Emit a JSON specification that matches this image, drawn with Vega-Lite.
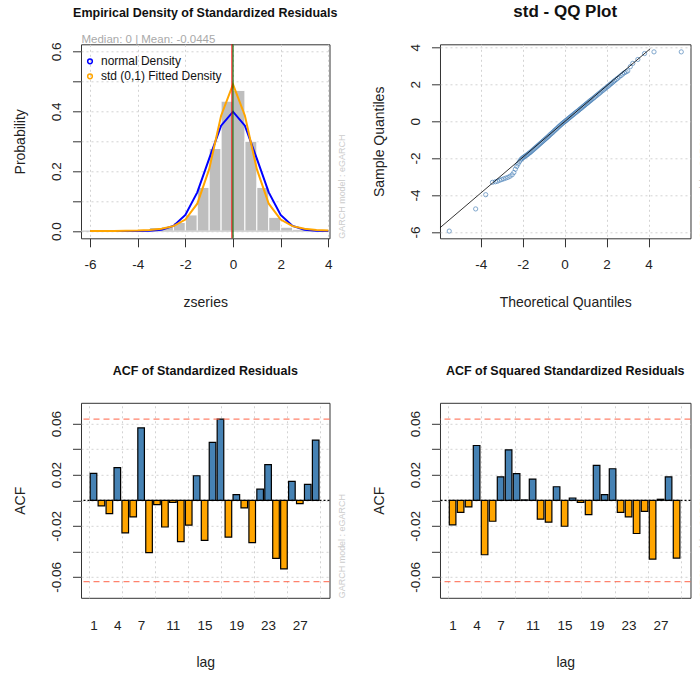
{
  "$schema": "https://vega.github.io/schema/vega-lite/v6.json",
  "background": "white",
  "padding": {"left": 13, "top": 2.3, "right": 0, "bottom": 0},
  "columns": 2,
  "spacing": {"row": 164.5, "column": 110},
  "bounds": "flush",
  "config": {
    "font": "Liberation Sans",
    "view": {"stroke": "#333333", "strokeWidth": 1},
    "axis": {"domain": false, "tickColor": "#333333", "tickSize": 8.5, "tickWidth": 1, "labelFontSize": 13.5, "labelColor": "#222222", "titleFontSize": 14, "titleFontWeight": "normal", "titleColor": "#222222", "gridColor": "#d3d3d3", "gridDash": [2, 3], "gridWidth": 1, "labelFlush": false, "labelOverlap": false, "labelPadding": 11, "zindex": 1},
    "axisY": {"labelAngle": -90, "labelPadding": 9, "labelAlign": "center", "labelBaseline": "bottom"},
    "title": {"fontWeight": "bold", "fontSize": 12.5, "color": "#111111", "frame": "group", "anchor": "middle", "baseline": "alphabetic"}
  },
  "concat": [
    {
      "width": 248.5,
      "height": 194,
      "title": {"text": "Empirical Density of Standardized Residuals", "offset": 14},
      "resolve": {"axis": {"x": "independent", "y": "independent"}},
      "layer": [
        {
          "data": {"values": [
            {"lo": -6, "hi": -5.5, "density": 0.002},
            {"lo": -5, "hi": -4.5, "density": 0.002},
            {"lo": -4, "hi": -3.5, "density": 0.002},
            {"lo": -3.5, "hi": -3, "density": 0.012},
            {"lo": -3, "hi": -2.5, "density": 0.014},
            {"lo": -2.5, "hi": -2, "density": 0.029},
            {"lo": -2, "hi": -1.5, "density": 0.054},
            {"lo": -1.5, "hi": -1, "density": 0.146},
            {"lo": -1, "hi": -0.5, "density": 0.276},
            {"lo": -0.5, "hi": 0, "density": 0.434},
            {"lo": 0, "hi": 0.5, "density": 0.47},
            {"lo": 0.5, "hi": 1, "density": 0.3},
            {"lo": 1, "hi": 1.5, "density": 0.146},
            {"lo": 1.5, "hi": 2, "density": 0.046},
            {"lo": 2, "hi": 2.5, "density": 0.013},
            {"lo": 2.5, "hi": 3, "density": 0.006},
            {"lo": 3, "hi": 3.5, "density": 0.004},
            {"lo": 3.5, "hi": 4, "density": 0.004}
          ]},
          "mark": {"type": "rect", "fill": "#bebebe", "stroke": "white", "strokeWidth": 1},
          "encoding": {
            "x": {"field": "lo", "type": "quantitative", "scale": {"domain": [-6.38, 4.05], "nice": false, "zero": false, "padding": 0},
                  "axis": {"values": [-6, -4, -2, 0, 2, 4], "title": "zseries", "grid": true, "titlePadding": 24, "labelExpr": "replace(format(datum.value, 'd'), '\u2212', '-')"}},
            "x2": {"field": "hi"},
            "y": {"field": "density", "type": "quantitative", "scale": {"domain": [-0.024, 0.624], "nice": false, "zero": false, "padding": 0},
                  "axis": {"values": [0, 0.1, 0.2, 0.3, 0.4, 0.5, 0.6], "title": "Probability", "grid": true, "titlePadding": 22, "labelExpr": "round(datum.value*10) % 2 == 0 ? format(datum.value, '.1f') : ''"}},
            "y2": {"datum": 0}
          }
        },
        {
          "data": {"values": [{}]},
          "mark": {"type": "rule", "color": "#bebebe", "strokeWidth": 1},
          "encoding": {"y": {"datum": 0, "type": "quantitative", "axis": null}}
        },
        {
          "data": {"values": [
            {"x": -6, "d": 0, "series": "normal Density"},
            {"x": -5.5, "d": 0, "series": "normal Density"},
            {"x": -5, "d": 0, "series": "normal Density"},
            {"x": -4.5, "d": 0, "series": "normal Density"},
            {"x": -4, "d": 0.0001, "series": "normal Density"},
            {"x": -3.5, "d": 0.0009, "series": "normal Density"},
            {"x": -3, "d": 0.0044, "series": "normal Density"},
            {"x": -2.5, "d": 0.0175, "series": "normal Density"},
            {"x": -2, "d": 0.054, "series": "normal Density"},
            {"x": -1.5, "d": 0.1295, "series": "normal Density"},
            {"x": -1, "d": 0.242, "series": "normal Density"},
            {"x": -0.5, "d": 0.3521, "series": "normal Density"},
            {"x": 0, "d": 0.3989, "series": "normal Density"},
            {"x": 0.5, "d": 0.3521, "series": "normal Density"},
            {"x": 1, "d": 0.242, "series": "normal Density"},
            {"x": 1.5, "d": 0.1295, "series": "normal Density"},
            {"x": 2, "d": 0.054, "series": "normal Density"},
            {"x": 2.5, "d": 0.0175, "series": "normal Density"},
            {"x": 3, "d": 0.0044, "series": "normal Density"},
            {"x": 3.5, "d": 0.0009, "series": "normal Density"},
            {"x": 4, "d": 0.0001, "series": "normal Density"},
            {"x": -6, "d": 0.0002, "series": "std (0,1) Fitted Density"},
            {"x": -5.5, "d": 0.0004, "series": "std (0,1) Fitted Density"},
            {"x": -5, "d": 0.0006, "series": "std (0,1) Fitted Density"},
            {"x": -4.5, "d": 0.0011, "series": "std (0,1) Fitted Density"},
            {"x": -4, "d": 0.0019, "series": "std (0,1) Fitted Density"},
            {"x": -3.5, "d": 0.0037, "series": "std (0,1) Fitted Density"},
            {"x": -3, "d": 0.0077, "series": "std (0,1) Fitted Density"},
            {"x": -2.5, "d": 0.0167, "series": "std (0,1) Fitted Density"},
            {"x": -2, "d": 0.0386, "series": "std (0,1) Fitted Density"},
            {"x": -1.5, "d": 0.0915, "series": "std (0,1) Fitted Density"},
            {"x": -1, "d": 0.2068, "series": "std (0,1) Fitted Density"},
            {"x": -0.5, "d": 0.3855, "series": "std (0,1) Fitted Density"},
            {"x": 0, "d": 0.4901, "series": "std (0,1) Fitted Density"},
            {"x": 0.5, "d": 0.3855, "series": "std (0,1) Fitted Density"},
            {"x": 1, "d": 0.2068, "series": "std (0,1) Fitted Density"},
            {"x": 1.5, "d": 0.0915, "series": "std (0,1) Fitted Density"},
            {"x": 2, "d": 0.0386, "series": "std (0,1) Fitted Density"},
            {"x": 2.5, "d": 0.0167, "series": "std (0,1) Fitted Density"},
            {"x": 3, "d": 0.0077, "series": "std (0,1) Fitted Density"},
            {"x": 3.5, "d": 0.0037, "series": "std (0,1) Fitted Density"},
            {"x": 4, "d": 0.0019, "series": "std (0,1) Fitted Density"}
          ]},
          "mark": {"type": "line", "strokeWidth": 2},
          "encoding": {
            "x": {"field": "x", "type": "quantitative",
                  "axis": {"orient": "top", "title": "Median:  0 | Mean:  -0.0445", "labels": false, "ticks": false, "tickSize": 0, "grid": false, "titleAnchor": "start", "titleAlign": "left", "titleBaseline": "bottom", "titleFontSize": 11.5, "titleColor": "#a9a9a9", "titlePadding": 0}},
            "y": {"field": "d", "type": "quantitative",
                  "axis": {"orient": "right", "title": "GARCH model : eGARCH", "labels": false, "ticks": false, "tickSize": 0, "grid": false, "titleAngle": 270, "titleAnchor": "start", "titleAlign": "left", "titleBaseline": "middle", "titleFontSize": 9, "titleColor": "#cccccc", "titlePadding": 12}},
            "color": {"field": "series", "type": "nominal",
                      "scale": {"domain": ["normal Density", "std (0,1) Fitted Density"], "range": ["#0000ff", "#ffa500"]},
                      "legend": {"orient": "none", "legendX": 3, "legendY": 11, "title": null, "symbolType": "circle", "symbolSize": 22, "symbolStrokeWidth": 1.5, "labelFontSize": 12, "labelColor": "#111111", "rowPadding": 3, "labelOffset": 5, "padding": 0}}
          }
        },
        {
          "data": {"values": [{"v": -0.0445, "stat": "mean"}, {"v": 0, "stat": "median"}]},
          "mark": {"type": "rule", "strokeWidth": 1.1},
          "encoding": {
            "x": {"field": "v", "type": "quantitative", "axis": null},
            "color": {"condition": {"test": "datum.stat == 'mean'", "value": "#ff0000"}, "value": "#006400"}
          }
        }
      ]
    },
    {
      "width": 250.5,
      "height": 194,
      "title": {"text": "std - QQ Plot", "fontSize": 17, "offset": 22.4},
      "resolve": {"axis": {"x": "independent", "y": "independent"}},
      "layer": [
        {
          "data": {"values": [
            {"t": -5.5, "s": -5.95}, {"t": -4.24, "s": -4.75}, {"t": -3.76, "s": -3.98}, {"t": -3.44, "s": -3.31},
            {"t": -3.3, "s": -3.28}, {"t": -3.2, "s": -3.25}, {"t": -3.1, "s": -3.2}, {"t": -3.0, "s": -3.16},
            {"t": -2.9, "s": -3.12}, {"t": -2.8, "s": -3.08}, {"t": -2.7, "s": -3.04}, {"t": -2.6, "s": -2.98},
            {"t": -2.5, "s": -2.9}, {"t": -2.42, "s": -2.78}, {"t": -2.35, "s": -2.6}, {"t": -2.28, "s": -2.45},
            {"t": -2.22, "s": -2.32}, {"t": -2.16, "s": -2.2}, {"t": -2.1, "s": -2.1}, {"t": -2.05, "s": -2.04},
            {"t": -2.0, "s": -1.99}, {"t": -1.95, "s": -1.95}, {"t": -1.9, "s": -1.91}, {"t": -1.85, "s": -1.87},
            {"t": -1.8, "s": -1.83}, {"t": -1.75, "s": -1.79}, {"t": -1.7, "s": -1.74}, {"t": -1.65, "s": -1.7},
            {"t": -1.6, "s": -1.65}, {"t": -1.55, "s": -1.6}, {"t": -1.5, "s": -1.55}, {"t": -1.45, "s": -1.5},
            {"t": -1.4, "s": -1.45}, {"t": -1.35, "s": -1.4}, {"t": -1.3, "s": -1.35}, {"t": -1.25, "s": -1.3},
            {"t": -1.2, "s": -1.25}, {"t": -1.15, "s": -1.2}, {"t": -1.1, "s": -1.15}, {"t": -1.05, "s": -1.1},
            {"t": -1.0, "s": -1.05}, {"t": -0.95, "s": -1.0}, {"t": -0.9, "s": -0.95}, {"t": -0.85, "s": -0.9},
            {"t": -0.8, "s": -0.85}, {"t": -0.75, "s": -0.8}, {"t": -0.7, "s": -0.74}, {"t": -0.65, "s": -0.69},
            {"t": -0.6, "s": -0.64}, {"t": -0.55, "s": -0.59}, {"t": -0.5, "s": -0.53}, {"t": -0.45, "s": -0.48},
            {"t": -0.4, "s": -0.43}, {"t": -0.35, "s": -0.38}, {"t": -0.3, "s": -0.32}, {"t": -0.25, "s": -0.27},
            {"t": -0.2, "s": -0.22}, {"t": -0.15, "s": -0.17}, {"t": -0.1, "s": -0.12}, {"t": -0.05, "s": -0.07},
            {"t": 0.0, "s": -0.03}, {"t": 0.05, "s": 0.02}, {"t": 0.1, "s": 0.06}, {"t": 0.15, "s": 0.11},
            {"t": 0.2, "s": 0.16}, {"t": 0.25, "s": 0.2}, {"t": 0.3, "s": 0.25}, {"t": 0.35, "s": 0.3},
            {"t": 0.4, "s": 0.34}, {"t": 0.45, "s": 0.39}, {"t": 0.5, "s": 0.44}, {"t": 0.55, "s": 0.48},
            {"t": 0.6, "s": 0.53}, {"t": 0.65, "s": 0.57}, {"t": 0.7, "s": 0.62}, {"t": 0.75, "s": 0.67},
            {"t": 0.8, "s": 0.71}, {"t": 0.85, "s": 0.76}, {"t": 0.9, "s": 0.81}, {"t": 0.95, "s": 0.85},
            {"t": 1.0, "s": 0.9}, {"t": 1.05, "s": 0.95}, {"t": 1.1, "s": 0.99}, {"t": 1.15, "s": 1.04},
            {"t": 1.2, "s": 1.09}, {"t": 1.25, "s": 1.13}, {"t": 1.3, "s": 1.18}, {"t": 1.36, "s": 1.23},
            {"t": 1.42, "s": 1.29}, {"t": 1.48, "s": 1.35}, {"t": 1.54, "s": 1.4}, {"t": 1.6, "s": 1.46},
            {"t": 1.66, "s": 1.51}, {"t": 1.72, "s": 1.57}, {"t": 1.78, "s": 1.63}, {"t": 1.84, "s": 1.68},
            {"t": 1.9, "s": 1.74}, {"t": 1.96, "s": 1.79}, {"t": 2.02, "s": 1.85}, {"t": 2.08, "s": 1.9},
            {"t": 2.14, "s": 1.96}, {"t": 2.2, "s": 2.02}, {"t": 2.26, "s": 2.07}, {"t": 2.32, "s": 2.13},
            {"t": 2.38, "s": 2.19}, {"t": 2.45, "s": 2.25}, {"t": 2.52, "s": 2.32}, {"t": 2.6, "s": 2.39},
            {"t": 2.69, "s": 2.47}, {"t": 2.77, "s": 2.55}, {"t": 2.85, "s": 2.62}, {"t": 2.93, "s": 2.67},
            {"t": 3.01, "s": 2.72}, {"t": 3.13, "s": 2.95}, {"t": 3.25, "s": 3.13}, {"t": 3.49, "s": 3.34},
            {"t": 3.81, "s": 3.66}, {"t": 4.26, "s": 3.75}, {"t": 5.56, "s": 3.75}
          ]},
          "mark": {"type": "point", "filled": false, "color": "#4a82b8", "size": 18, "strokeWidth": 1},
          "encoding": {
            "x": {"field": "t", "type": "quantitative", "scale": {"domain": [-5.94, 6.0], "nice": false, "zero": false},
                  "axis": {"values": [-4, -2, 0, 2, 4], "title": "Theoretical Quantiles", "grid": true, "titlePadding": 24, "labelExpr": "replace(format(datum.value, 'd'), '\u2212', '-')"}},
            "y": {"field": "s", "type": "quantitative", "scale": {"domain": [-6.34, 4.16], "nice": false, "zero": false},
                  "axis": {"values": [-6, -4, -2, 0, 2, 4], "title": "Sample Quantiles", "grid": true, "titlePadding": 22, "labelExpr": "replace(format(datum.value, 'd'), '\u2212', '-')"}}
          }
        },
        {
          "data": {"values": [{"t": -5.94, "s": -5.77}, {"t": 4.08, "s": 3.92}]},
          "mark": {"type": "line", "color": "#000000", "strokeWidth": 0.8},
          "encoding": {
            "x": {"field": "t", "type": "quantitative", "axis": null},
            "y": {"field": "s", "type": "quantitative",
                  "axis": {"orient": "right", "title": "GARCH model : eGARCH", "labels": false, "ticks": false, "tickSize": 0, "grid": false, "titleAngle": 270, "titleAnchor": "start", "titleAlign": "left", "titleBaseline": "middle", "titleFontSize": 9, "titleColor": "#cccccc", "titlePadding": 12}}
          }
        }
      ]
    },
    {
      "width": 248.5,
      "height": 195,
      "title": {"text": "ACF of Standardized Residuals", "offset": 25},
      "resolve": {"axis": {"x": "independent", "y": "independent"}},
      "layer": [
        {
          "data": {"values": [
            {"lag": 1, "acf": 0.021}, {"lag": 2, "acf": -0.0044}, {"lag": 3, "acf": -0.0104}, {"lag": 4, "acf": 0.0255},
            {"lag": 5, "acf": -0.0255}, {"lag": 6, "acf": -0.013}, {"lag": 7, "acf": 0.0567}, {"lag": 8, "acf": -0.041},
            {"lag": 9, "acf": -0.0034}, {"lag": 10, "acf": -0.0209}, {"lag": 11, "acf": -0.0016}, {"lag": 12, "acf": -0.0323},
            {"lag": 13, "acf": -0.0194}, {"lag": 14, "acf": 0.0192}, {"lag": 15, "acf": -0.0313}, {"lag": 16, "acf": 0.0453},
            {"lag": 17, "acf": 0.0635}, {"lag": 18, "acf": -0.0288}, {"lag": 19, "acf": 0.0044}, {"lag": 20, "acf": -0.006},
            {"lag": 21, "acf": -0.0332}, {"lag": 22, "acf": 0.0087}, {"lag": 23, "acf": 0.0279}, {"lag": 24, "acf": -0.0455},
            {"lag": 25, "acf": -0.0537}, {"lag": 26, "acf": 0.0148}, {"lag": 27, "acf": -0.0026}, {"lag": 28, "acf": 0.0124},
            {"lag": 29, "acf": 0.0471}
          ]},
          "mark": {"type": "bar", "orient": "vertical", "width": 6.6, "stroke": "#000000", "strokeWidth": 1.2},
          "encoding": {
            "x": {"field": "lag", "type": "quantitative", "scale": {"domain": [-0.575, 30.74], "nice": false, "zero": false, "padding": 0},
                  "axis": {"values": [1, 4, 7, 11, 15, 19, 23, 27], "format": "d", "ticks": false, "tickSize": 0, "grid": false, "labelPadding": 21, "title": "lag", "titlePadding": 23}},
            "y": {"field": "acf", "type": "quantitative", "scale": {"domain": [-0.0763, 0.0763], "nice": false, "zero": false, "padding": 0},
                  "axis": {"values": [-0.06, -0.04, -0.02, 0, 0.02, 0.04, 0.06], "grid": true, "title": "ACF", "titlePadding": 22, "labelExpr": "abs(round(datum.value*100)) % 4 == 2 ? replace(format(datum.value, '.2f'), '\u2212', '-') : ''"}},
            "y2": {"datum": 0},
            "color": {"condition": {"test": "datum.acf > 0", "value": "#4682b4"}, "value": "#ffa500"}
          }
        },
        {
          "data": {"values": [{"ci": 0.0636}, {"ci": -0.0636}]},
          "mark": {"type": "rule", "color": "#ff6347", "strokeDash": [6, 4], "strokeWidth": 1.2, "opacity": 0.8},
          "encoding": {"y": {"field": "ci", "type": "quantitative", "axis": null}}
        },
        {
          "data": {"values": [{}]},
          "mark": {"type": "rule", "color": "#000000", "strokeDash": [2, 2], "strokeWidth": 1.2},
          "encoding": {"y": {"datum": 0, "type": "quantitative", "axis": null}}
        },
        {
          "data": {"values": [{"lag": 1, "acf": 0.021}, {"lag": 29, "acf": 0.0471}]},
          "mark": {"type": "point", "opacity": 0},
          "encoding": {
            "x": {"field": "lag", "type": "quantitative",
                  "axis": {"orient": "top", "values": [0.4167, 4.5833, 8.75, 12.9167, 17.0833, 21.25, 25.4167, 29.5833], "labels": false, "ticks": false, "tickSize": 0, "grid": true, "title": null}},
            "y": {"field": "acf", "type": "quantitative",
                  "axis": {"orient": "right", "title": "GARCH model : eGARCH", "labels": false, "ticks": false, "tickSize": 0, "grid": false, "titleAngle": 270, "titleAnchor": "start", "titleAlign": "left", "titleBaseline": "middle", "titleFontSize": 9, "titleColor": "#cccccc", "titlePadding": 12}}
          }
        }
      ]
    },
    {
      "width": 250.5,
      "height": 195,
      "title": {"text": "ACF of Squared Standardized Residuals", "offset": 25},
      "resolve": {"axis": {"x": "independent", "y": "independent"}},
      "layer": [
        {
          "data": {"values": [
            {"lag": 1, "acf": -0.0192}, {"lag": 2, "acf": -0.0094}, {"lag": 3, "acf": -0.0052}, {"lag": 4, "acf": 0.0429},
            {"lag": 5, "acf": -0.0426}, {"lag": 6, "acf": -0.0164}, {"lag": 7, "acf": 0.0184}, {"lag": 8, "acf": 0.0395},
            {"lag": 9, "acf": 0.0208}, {"lag": 10, "acf": 0.0003}, {"lag": 11, "acf": 0.0166}, {"lag": 12, "acf": -0.0148},
            {"lag": 13, "acf": -0.0171}, {"lag": 14, "acf": 0.0106}, {"lag": 15, "acf": -0.0203}, {"lag": 16, "acf": 0.0018},
            {"lag": 17, "acf": -0.0016}, {"lag": 18, "acf": -0.0112}, {"lag": 19, "acf": 0.0273}, {"lag": 20, "acf": 0.0044},
            {"lag": 21, "acf": 0.0247}, {"lag": 22, "acf": -0.0094}, {"lag": 23, "acf": -0.013}, {"lag": 24, "acf": -0.026},
            {"lag": 25, "acf": -0.0086}, {"lag": 26, "acf": -0.046}, {"lag": 27, "acf": 0.0008}, {"lag": 28, "acf": 0.0184},
            {"lag": 29, "acf": -0.0452}
          ]},
          "mark": {"type": "bar", "orient": "vertical", "width": 6.6, "stroke": "#000000", "strokeWidth": 1.2},
          "encoding": {
            "x": {"field": "lag", "type": "quantitative", "scale": {"domain": [-0.575, 30.74], "nice": false, "zero": false, "padding": 0},
                  "axis": {"values": [1, 4, 7, 11, 15, 19, 23, 27], "format": "d", "ticks": false, "tickSize": 0, "grid": false, "labelPadding": 21, "title": "lag", "titlePadding": 23}},
            "y": {"field": "acf", "type": "quantitative", "scale": {"domain": [-0.0763, 0.0763], "nice": false, "zero": false, "padding": 0},
                  "axis": {"values": [-0.06, -0.04, -0.02, 0, 0.02, 0.04, 0.06], "grid": true, "title": "ACF", "titlePadding": 22, "labelExpr": "abs(round(datum.value*100)) % 4 == 2 ? replace(format(datum.value, '.2f'), '\u2212', '-') : ''"}},
            "y2": {"datum": 0},
            "color": {"condition": {"test": "datum.acf > 0", "value": "#4682b4"}, "value": "#ffa500"}
          }
        },
        {
          "data": {"values": [{"ci": 0.0636}, {"ci": -0.0636}]},
          "mark": {"type": "rule", "color": "#ff6347", "strokeDash": [6, 4], "strokeWidth": 1.2, "opacity": 0.8},
          "encoding": {"y": {"field": "ci", "type": "quantitative", "axis": null}}
        },
        {
          "data": {"values": [{}]},
          "mark": {"type": "rule", "color": "#000000", "strokeDash": [2, 2], "strokeWidth": 1.2},
          "encoding": {"y": {"datum": 0, "type": "quantitative", "axis": null}}
        },
        {
          "data": {"values": [{"lag": 1, "acf": -0.0192}, {"lag": 29, "acf": -0.0452}]},
          "mark": {"type": "point", "opacity": 0},
          "encoding": {
            "x": {"field": "lag", "type": "quantitative",
                  "axis": {"orient": "top", "values": [0.4167, 4.5833, 8.75, 12.9167, 17.0833, 21.25, 25.4167, 29.5833], "labels": false, "ticks": false, "tickSize": 0, "grid": true, "title": null}},
            "y": {"field": "acf", "type": "quantitative",
                  "axis": {"orient": "right", "title": "GARCH model : eGARCH", "labels": false, "ticks": false, "tickSize": 0, "grid": false, "titleAngle": 270, "titleAnchor": "start", "titleAlign": "left", "titleBaseline": "middle", "titleFontSize": 9, "titleColor": "#cccccc", "titlePadding": 12}}
          }
        }
      ]
    }
  ]
}
